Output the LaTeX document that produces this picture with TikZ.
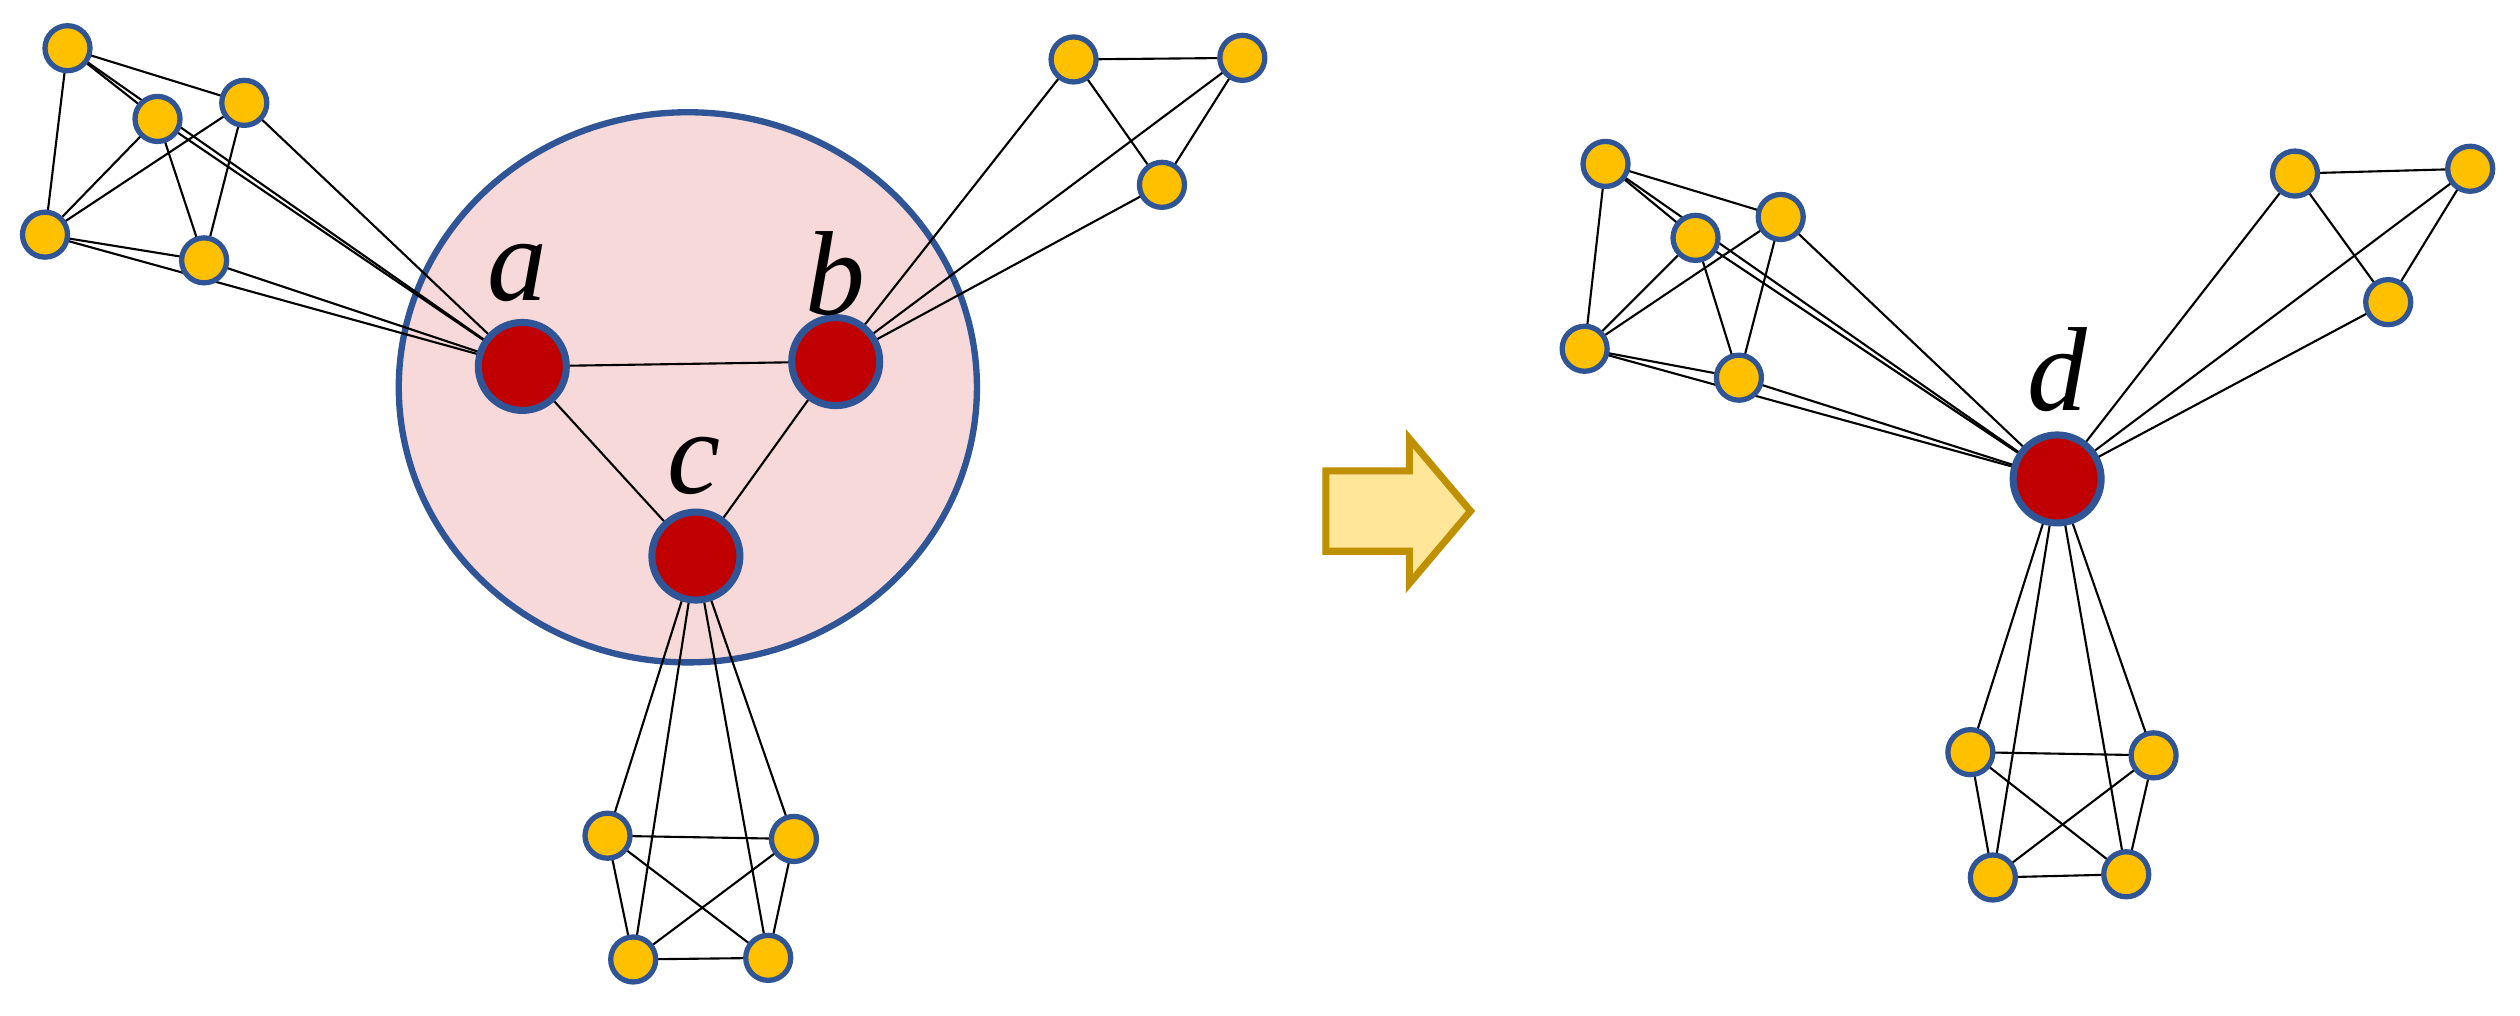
\documentclass[tikz,border=0pt]{standalone}
\usepackage{fontspec}
\setmainfont{Liberation Serif}
\usetikzlibrary{shapes.geometric}
\pgfdeclarelayer{bg}\pgfdeclarelayer{bgg}\pgfsetlayers{bgg,bg,main}
\definecolor{yel}{HTML}{FFC000}
\definecolor{rd}{HTML}{C00000}
\definecolor{bl}{HTML}{2F5597}
\definecolor{pk}{HTML}{F6D9D8}
\definecolor{afill}{HTML}{FFE699}
\definecolor{abord}{HTML}{BF9000}
\begin{document}
\begin{tikzpicture}[x=0.01607cm,y=-0.01607cm,
  yn/.style={circle,fill=yel,draw=bl,line width=1.5pt,minimum size=0.45cm,inner sep=0},
  rn/.style={circle,fill=rd,draw=bl,line width=2pt,minimum size=0.88cm,inner sep=0},
  lab/.style={font=\fontsize{34}{38}\selectfont\itshape},
  e/.style={line width=0.6pt}]
\useasboundingbox (0,0) rectangle (1568,632);
\begin{pgfonlayer}{bgg}
\node[ellipse,draw=bl,fill=pk,line width=1.8pt,minimum width=5.78cm,minimum height=5.5cm,inner sep=0] (C) at (428,241) {};
\end{pgfonlayer}
% left graph
\node[yn] (n1) at (42,30) {}; \node[yn] (n2) at (98,74) {}; \node[yn] (n3) at (152,64) {};
\node[yn] (n4) at (28,146) {}; \node[yn] (n5) at (127,162) {};
\node[rn] (a) at (325,228) {}; \node[rn] (b) at (520,225) {}; \node[rn] (c) at (433,346) {};
\node[yn] (t1) at (668,37) {}; \node[yn] (t2) at (773,36) {}; \node[yn] (t3) at (723,115) {};
\node[yn] (u1) at (378,520) {}; \node[yn] (u2) at (494,522) {}; \node[yn] (u3) at (394,597) {}; \node[yn] (u4) at (478,596) {};
\node[lab] (la) at (322,170) {a}; \node[lab] (lb) at (520,170) {b}; \node[lab] (lc) at (432,290) {c};
% right graph
\node[yn] (r1) at (999,102) {}; \node[yn] (r2) at (1055,148) {}; \node[yn] (r3) at (1108,135) {};
\node[yn] (r4) at (986,217) {}; \node[yn] (r5) at (1082,235) {};
\node[rn] (d) at (1280,298) {};
\node[yn] (s1) at (1428,108) {}; \node[yn] (s2) at (1537,105) {}; \node[yn] (s3) at (1486,188) {};
\node[yn] (v1) at (1226,468) {}; \node[yn] (v2) at (1340,470) {}; \node[yn] (v3) at (1240,546) {}; \node[yn] (v4) at (1323,544) {};
\node[lab] (ld) at (1280,230) {d};
% arrow
\draw[fill=afill,draw=abord,line width=2pt,line join=miter] (825,293)--(877,293)--(877,273)--(915,318)--(877,363)--(877,343)--(825,343)--cycle;
\begin{pgfonlayer}{bg}
\foreach \p/\q in {n1/n3,n1/n4,n1/n2,n2/n4,n3/n4,n2/n5,n3/n5,n4/n5,n1/a,n2/a,n3/a,n4/a,n5/a,
 a/b,a/c,b/c,t1/t2,t1/t3,t2/t3,t1/b,t2/b,t3/b,
 u1/u2,u1/u3,u2/u4,u3/u4,u1/u4,u2/u3,c/u1,c/u2,c/u3,c/u4,
 r1/r3,r1/r4,r1/r2,r2/r4,r3/r4,r2/r5,r3/r5,r4/r5,r1/d,r2/d,r3/d,r4/d,r5/d,
 s1/s2,s1/s3,s2/s3,s1/d,s2/d,s3/d,
 v1/v2,v1/v3,v2/v4,v3/v4,v1/v4,v2/v3,d/v1,d/v2,d/v3,d/v4}
 \draw[e] (\p.center)--(\q.center);
\end{pgfonlayer}
\end{tikzpicture}
\end{document}
